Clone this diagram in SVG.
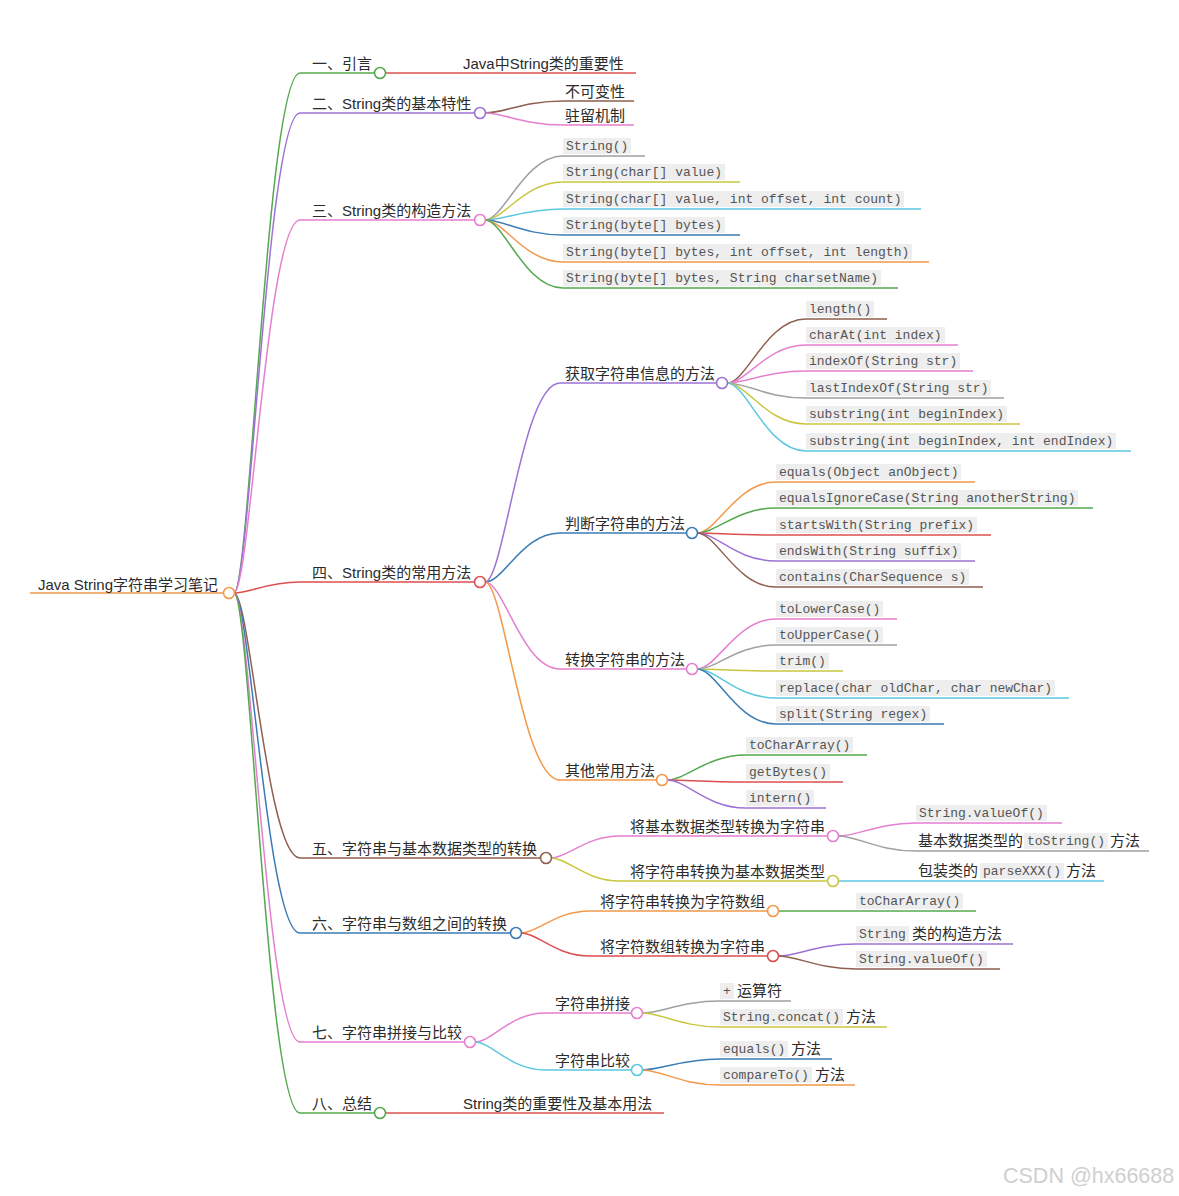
<svg xmlns="http://www.w3.org/2000/svg" width="1179" height="1196" viewBox="0 0 1179 1196">
<style>
.t{font-family:"Liberation Sans","Noto Sans CJK SC",sans-serif;font-size:15px;fill:#2b2b2b}
.c{font-family:"Liberation Mono",monospace;font-size:13px;fill:#555}
.bg{fill:#eeeeee}
.l{fill:none;stroke-width:1.5}
.n{fill:#fff;stroke-width:1.6}
.green{stroke:#55a84f}.purple{stroke:#9d72d6}.pink{stroke:#e57fcf}.red{stroke:#dc4f4f}.brown{stroke:#8f5f4f}
.blue{stroke:#3a7cb5}.orange{stroke:#f2994a}.gray{stroke:#a0a0a0}.yellow{stroke:#c9c640}.cyan{stroke:#5cc8e0}
.wm{font-family:"Liberation Sans",sans-serif;font-size:21.5px;fill:#cfcfcf}
</style>
<rect width="1179" height="1196" fill="#fff"/>
<g id="connectors">
<path class="l orange" d="M30 593H224"/>
<path class="l green" d="M234 593C250 593 267 73 300 73H375"/>
<path class="l purple" d="M234 593C250 593 267 113 300 113H475"/>
<path class="l pink" d="M234 593C250 593 267 220 300 220H475"/>
<path class="l red" d="M234 593C250 593 267 582 300 582H475"/>
<path class="l brown" d="M234 593C250 593 267 858 300 858H541"/>
<path class="l blue" d="M234 593C250 593 267 933 300 933H511"/>
<path class="l pink" d="M234 593C250 593 267 1042 300 1042H465"/>
<path class="l green" d="M234 593C250 593 267 1113 300 1113H375"/>
<path class="l purple" d="M485 582C504 582 522 383 560 383H717"/>
<path class="l blue" d="M485 582C504 582 522 533 560 533H687"/>
<path class="l pink" d="M485 582C504 582 522 669 560 669H687"/>
<path class="l orange" d="M485 582C504 582 522 780 560 780H657"/>
<path class="l pink" d="M551 858C568 858 585 836 620 836H828"/>
<path class="l yellow" d="M551 858C568 858 585 881 620 881H828"/>
<path class="l orange" d="M521 933C538 933 555 911 590 911H768"/>
<path class="l red" d="M521 933C538 933 555 956 590 956H768"/>
<path class="l pink" d="M475 1042C492 1042 510 1013 545 1013H632"/>
<path class="l cyan" d="M475 1042C492 1042 510 1070 545 1070H632"/>
<path class="l red" d="M385 73H636"/>
<path class="l brown" d="M485 113C504 113 524 101 563 101H634"/>
<path class="l pink" d="M485 113C504 113 524 125 563 125H634"/>
<path class="l gray" d="M485 220C504 220 524 156 563 156H645"/>
<path class="l yellow" d="M485 220C504 220 524 182 563 182H740"/>
<path class="l cyan" d="M485 220C504 220 524 209 563 209H921"/>
<path class="l blue" d="M485 220C504 220 524 235 563 235H740"/>
<path class="l orange" d="M485 220C504 220 524 262 563 262H929"/>
<path class="l green" d="M485 220C504 220 524 288 563 288H898"/>
<path class="l brown" d="M727 383C747 383 766 319 806 319H887"/>
<path class="l pink" d="M727 383C747 383 766 345 806 345H958"/>
<path class="l pink" d="M727 383C747 383 766 371 806 371H973"/>
<path class="l gray" d="M727 383C747 383 766 398 806 398H1004"/>
<path class="l yellow" d="M727 383C747 383 766 424 806 424H1020"/>
<path class="l cyan" d="M727 383C747 383 766 451 806 451H1131"/>
<path class="l orange" d="M697 533C717 533 736 482 776 482H975"/>
<path class="l green" d="M697 533C717 533 736 508 776 508H1093"/>
<path class="l red" d="M697 533C717 533 736 535 776 535H991"/>
<path class="l purple" d="M697 533C717 533 736 561 776 561H975"/>
<path class="l brown" d="M697 533C717 533 736 587 776 587H983"/>
<path class="l pink" d="M697 669C717 669 736 619 776 619H897"/>
<path class="l gray" d="M697 669C717 669 736 645 776 645H897"/>
<path class="l yellow" d="M697 669C717 669 736 671 776 671H843"/>
<path class="l cyan" d="M697 669C717 669 736 698 776 698H1069"/>
<path class="l blue" d="M697 669C717 669 736 724 776 724H944"/>
<path class="l green" d="M667 780C687 780 706 755 746 755H867"/>
<path class="l red" d="M667 780C687 780 706 782 746 782H843"/>
<path class="l purple" d="M667 780C687 780 706 808 746 808H826"/>
<path class="l pink" d="M838 836C858 836 877 823 916 823H1062"/>
<path class="l gray" d="M838 836C858 836 877 851 916 851H1149"/>
<path class="l cyan" d="M838 881H1104"/>
<path class="l green" d="M778 911H976"/>
<path class="l purple" d="M778 956C798 956 817 944 856 944H1013"/>
<path class="l brown" d="M778 956C798 956 817 969 856 969H1000"/>
<path class="l gray" d="M642 1013C662 1013 681 1001 720 1001H791"/>
<path class="l yellow" d="M642 1013C662 1013 681 1027 720 1027H887"/>
<path class="l blue" d="M642 1070C662 1070 681 1059 720 1059H832"/>
<path class="l orange" d="M642 1070C662 1070 681 1085 720 1085H855"/>
<path class="l red" d="M385 1113H664"/>
</g>
<g id="root"><text class="t" x="38" y="590">Java String字符串学习笔记</text><circle class="n orange" cx="229" cy="593" r="5.5"/></g>
<g id="n1"><text class="t" x="312" y="69">一、引言</text><circle class="n green" cx="380" cy="73" r="5.5"/></g>
<g id="n1a"><text class="t" x="463" y="69">Java中String类的重要性</text></g>
<g id="n2"><text class="t" x="312" y="109">二、String类的基本特性</text><circle class="n purple" cx="480" cy="113" r="5.5"/></g>
<g id="n2a"><text class="t" x="565" y="97">不可变性</text></g>
<g id="n2b"><text class="t" x="565" y="121">驻留机制</text></g>
<g id="n3"><text class="t" x="312" y="216">三、String类的构造方法</text><circle class="n pink" cx="480" cy="220" r="5.5"/></g>
<g id="n3a"><rect class="bg" x="563" y="138" width="68" height="16"/><text class="c" x="566" y="150">String()</text></g>
<g id="n3b"><rect class="bg" x="563" y="164" width="162" height="16"/><text class="c" x="566" y="176">String(char[] value)</text></g>
<g id="n3c"><rect class="bg" x="563" y="191" width="341" height="16"/><text class="c" x="566" y="203">String(char[] value, int offset, int count)</text></g>
<g id="n3d"><rect class="bg" x="563" y="217" width="162" height="16"/><text class="c" x="566" y="229">String(byte[] bytes)</text></g>
<g id="n3e"><rect class="bg" x="563" y="244" width="349" height="16"/><text class="c" x="566" y="256">String(byte[] bytes, int offset, int length)</text></g>
<g id="n3f"><rect class="bg" x="563" y="270" width="318" height="16"/><text class="c" x="566" y="282">String(byte[] bytes, String charsetName)</text></g>
<g id="n4"><text class="t" x="312" y="578">四、String类的常用方法</text><circle class="n red" cx="480" cy="582" r="5.5"/></g>
<g id="n4a"><text class="t" x="565" y="379">获取字符串信息的方法</text><circle class="n purple" cx="722" cy="383" r="5.5"/></g>
<g id="n4a1"><rect class="bg" x="806" y="301" width="68" height="16"/><text class="c" x="809" y="313">length()</text></g>
<g id="n4a2"><rect class="bg" x="806" y="327" width="139" height="16"/><text class="c" x="809" y="339">charAt(int index)</text></g>
<g id="n4a3"><rect class="bg" x="806" y="353" width="154" height="16"/><text class="c" x="809" y="365">indexOf(String str)</text></g>
<g id="n4a4"><rect class="bg" x="806" y="380" width="185" height="16"/><text class="c" x="809" y="392">lastIndexOf(String str)</text></g>
<g id="n4a5"><rect class="bg" x="806" y="406" width="201" height="16"/><text class="c" x="809" y="418">substring(int beginIndex)</text></g>
<g id="n4a6"><rect class="bg" x="806" y="433" width="310" height="16"/><text class="c" x="809" y="445">substring(int beginIndex, int endIndex)</text></g>
<g id="n4b"><text class="t" x="565" y="529">判断字符串的方法</text><circle class="n blue" cx="692" cy="533" r="5.5"/></g>
<g id="n4b1"><rect class="bg" x="776" y="464" width="185" height="16"/><text class="c" x="779" y="476">equals(Object anObject)</text></g>
<g id="n4b2"><rect class="bg" x="776" y="490" width="302" height="16"/><text class="c" x="779" y="502">equalsIgnoreCase(String anotherString)</text></g>
<g id="n4b3"><rect class="bg" x="776" y="517" width="201" height="16"/><text class="c" x="779" y="529">startsWith(String prefix)</text></g>
<g id="n4b4"><rect class="bg" x="776" y="543" width="185" height="16"/><text class="c" x="779" y="555">endsWith(String suffix)</text></g>
<g id="n4b5"><rect class="bg" x="776" y="569" width="193" height="16"/><text class="c" x="779" y="581">contains(CharSequence s)</text></g>
<g id="n4c"><text class="t" x="565" y="665">转换字符串的方法</text><circle class="n pink" cx="692" cy="669" r="5.5"/></g>
<g id="n4c1"><rect class="bg" x="776" y="601" width="107" height="16"/><text class="c" x="779" y="613">toLowerCase()</text></g>
<g id="n4c2"><rect class="bg" x="776" y="627" width="107" height="16"/><text class="c" x="779" y="639">toUpperCase()</text></g>
<g id="n4c3"><rect class="bg" x="776" y="653" width="53" height="16"/><text class="c" x="779" y="665">trim()</text></g>
<g id="n4c4"><rect class="bg" x="776" y="680" width="279" height="16"/><text class="c" x="779" y="692">replace(char oldChar, char newChar)</text></g>
<g id="n4c5"><rect class="bg" x="776" y="706" width="154" height="16"/><text class="c" x="779" y="718">split(String regex)</text></g>
<g id="n4d"><text class="t" x="565" y="776">其他常用方法</text><circle class="n orange" cx="662" cy="780" r="5.5"/></g>
<g id="n4d1"><rect class="bg" x="746" y="737" width="107" height="16"/><text class="c" x="749" y="749">toCharArray()</text></g>
<g id="n4d2"><rect class="bg" x="746" y="764" width="84" height="16"/><text class="c" x="749" y="776">getBytes()</text></g>
<g id="n4d3"><rect class="bg" x="746" y="790" width="68" height="16"/><text class="c" x="749" y="802">intern()</text></g>
<g id="n5"><text class="t" x="312" y="854">五、字符串与基本数据类型的转换</text><circle class="n brown" cx="546" cy="858" r="5.5"/></g>
<g id="n5a"><text class="t" x="630" y="832">将基本数据类型转换为字符串</text><circle class="n pink" cx="833" cy="836" r="5.5"/></g>
<g id="n5a1"><rect class="bg" x="916" y="805" width="131" height="16"/><text class="c" x="919" y="817">String.valueOf()</text></g>
<g id="n5a2"><text class="t" x="918" y="846">基本数据类型的</text><rect class="bg" x="1024" y="833" width="84" height="16"/><text class="c" x="1027" y="845">toString()</text><text class="t" x="1110" y="846">方法</text></g>
<g id="n5b"><text class="t" x="630" y="877">将字符串转换为基本数据类型</text><circle class="n yellow" cx="833" cy="881" r="5.5"/></g>
<g id="n5b1"><text class="t" x="918" y="876">包装类的</text><rect class="bg" x="980" y="863" width="84" height="16"/><text class="c" x="983" y="875">parseXXX()</text><text class="t" x="1066" y="876">方法</text></g>
<g id="n6"><text class="t" x="312" y="929">六、字符串与数组之间的转换</text><circle class="n blue" cx="516" cy="933" r="5.5"/></g>
<g id="n6a"><text class="t" x="600" y="907">将字符串转换为字符数组</text><circle class="n orange" cx="773" cy="911" r="5.5"/></g>
<g id="n6a1"><rect class="bg" x="856" y="893" width="107" height="16"/><text class="c" x="859" y="905">toCharArray()</text></g>
<g id="n6b"><text class="t" x="600" y="952">将字符数组转换为字符串</text><circle class="n red" cx="773" cy="956" r="5.5"/></g>
<g id="n6b1"><rect class="bg" x="856" y="926" width="53" height="16"/><text class="c" x="859" y="938">String</text><text class="t" x="912" y="939">类的构造方法</text></g>
<g id="n6b2"><rect class="bg" x="856" y="951" width="131" height="16"/><text class="c" x="859" y="963">String.valueOf()</text></g>
<g id="n7"><text class="t" x="312" y="1038">七、字符串拼接与比较</text><circle class="n pink" cx="470" cy="1042" r="5.5"/></g>
<g id="n7a"><text class="t" x="555" y="1009">字符串拼接</text><circle class="n pink" cx="637" cy="1013" r="5.5"/></g>
<g id="n7a1"><rect class="bg" x="720" y="983" width="14" height="16"/><text class="c" x="723" y="995">+</text><text class="t" x="737" y="996">运算符</text></g>
<g id="n7a2"><rect class="bg" x="720" y="1009" width="123" height="16"/><text class="c" x="723" y="1021">String.concat()</text><text class="t" x="846" y="1022">方法</text></g>
<g id="n7b"><text class="t" x="555" y="1066">字符串比较</text><circle class="n cyan" cx="637" cy="1070" r="5.5"/></g>
<g id="n7b1"><rect class="bg" x="720" y="1041" width="68" height="16"/><text class="c" x="723" y="1053">equals()</text><text class="t" x="791" y="1054">方法</text></g>
<g id="n7b2"><rect class="bg" x="720" y="1067" width="92" height="16"/><text class="c" x="723" y="1079">compareTo()</text><text class="t" x="815" y="1080">方法</text></g>
<g id="n8"><text class="t" x="312" y="1109">八、总结</text><circle class="n green" cx="380" cy="1113" r="5.5"/></g>
<g id="n8a"><text class="t" x="463" y="1109">String类的重要性及基本用法</text></g>
<text class="wm" x="1003" y="1183">CSDN @hx66688</text>
</svg>
